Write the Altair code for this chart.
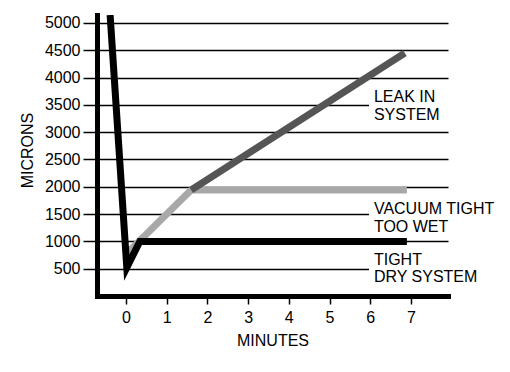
import altair as alt
import pandas as pd

# ---- data ----
tight_x = [-0.39, 0.02, 0.34, 6.9]
tight_y = [5146, 520, 1000, 1000]
wet_x = [0.05, 1.6, 6.9]
wet_y = [800, 1940, 1940]
leak_x = [1.6, 6.85]
leak_y = [1940, 4450]

label_text = ["LEAK IN", "SYSTEM", "VACUUM TIGHT", "TOO WET", "TIGHT", "DRY SYSTEM"]
label_x = [6.09] * 6
label_y = [3553, 3223, 1502, 1172, 568, 256]

box_x = [5.97, 5.97, 5.97]
box_x2 = [8.1, 8.1, 8.1]
box_y = [3150, 1100, 150]
box_y2 = [3850, 1800, 900]

x_ticks = [0, 1, 2, 3, 4, 5, 6, 7]
y_ticks = [500, 1000, 1500, 2000, 2500, 3000, 3500, 4000, 4500, 5000]

X_DOMAIN = [-0.712, 7.91]
Y_DOMAIN = [0, 5146]
FONT = "Liberation Sans"

xs = alt.Scale(domain=X_DOMAIN, nice=False, zero=False)
ys = alt.Scale(domain=Y_DOMAIN, nice=False, zero=False)

def line_df(xv, yv):
    return pd.DataFrame({"x": xv, "y": yv, "o": list(range(len(xv)))})

x_axis = alt.Axis(values=x_ticks, title="MINUTES", labelFontSize=16, labelFont=FONT,
                  titleFont=FONT, titleFontSize=16, titleFontWeight="normal",
                  titleY=36, tickSize=8, tickWidth=1.5, tickColor="black",
                  labelPadding=5, domainColor="black", domainWidth=5,
                  domainCap="square", grid=False, labelColor="black", titleColor="black",
                  labelOverlap=False, format="d")
y_axis = alt.Axis(values=y_ticks, title="MICRONS", labelFontSize=16, labelFont=FONT,
                  titleFont=FONT, titleFontSize=16, titleFontWeight="normal",
                  titleX=-70, titleY=135, titleBaseline="middle",
                  tickSize=14, tickWidth=1.5, tickColor="black", labelPadding=3,
                  domainColor="black", domainWidth=5, domainCap="square",
                  grid=True, gridColor="black", gridWidth=1.5, gridOpacity=1,
                  labelColor="black", titleColor="black",
                  labelOverlap=False, format="d")

boxes = alt.Chart(pd.DataFrame({"x": box_x, "x2": box_x2, "y": box_y, "y2": box_y2})).mark_rect(
    color="white", clip=False).encode(
    x=alt.X("x:Q", scale=xs, axis=x_axis),
    x2="x2:Q",
    y=alt.Y("y:Q", scale=ys, axis=y_axis),
    y2="y2:Q",
)

def line_layer(xv, yv, color):
    return alt.Chart(line_df(xv, yv)).mark_line(color=color, strokeWidth=7, clip=True,
                                                  strokeCap="butt", strokeJoin="miter").encode(
        x=alt.X("x:Q", scale=xs, axis=x_axis),
        y=alt.Y("y:Q", scale=ys, axis=y_axis),
        order="o:Q",
    )

wet = line_layer(wet_x, wet_y, "#a8a8a8")
leak = line_layer(leak_x, leak_y, "#555555")
tight = line_layer(tight_x, tight_y, "#000000")

labels = alt.Chart(pd.DataFrame({"x": label_x, "y": label_y, "t": label_text})).mark_text(
    align="left", baseline="alphabetic", fontSize=16, font=FONT, color="black").encode(
    x=alt.X("x:Q", scale=xs, axis=x_axis),
    y=alt.Y("y:Q", scale=ys, axis=y_axis),
    text="t:N",
)

chart = alt.layer(boxes, wet, leak, tight, labels).properties(
    width=351, height=281,
    padding={"left": 89, "top": 7, "right": 50, "bottom": 60},
    autosize=alt.AutoSizeParams(type="none"),
).configure_view(stroke=None)

chart.save("out.html", embed_options={"renderer": "svg", "actions": False})
